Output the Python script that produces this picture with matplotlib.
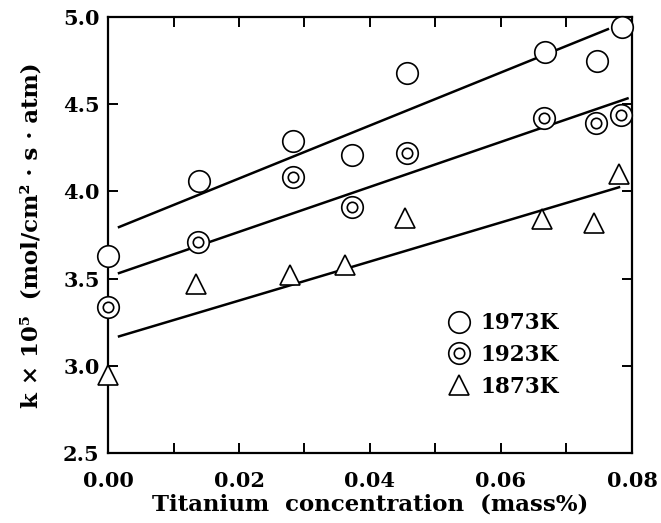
import numpy as np
import matplotlib
matplotlib.use("Agg")
import matplotlib.pyplot as plt
from matplotlib.ticker import MultipleLocator

plt.rcParams['font.family'] = 'DejaVu Serif'
plt.rcParams['font.weight'] = 'bold'

# ===== Data =====
ti_1973 = [0.0, 0.0139, 0.0282, 0.0373, 0.0457, 0.0667, 0.0747, 0.0785]
k_1973 = [3.63, 4.06, 4.29, 4.21, 4.68, 4.80, 4.75, 4.94]

ti_1923 = [0.0, 0.0138, 0.0282, 0.0373, 0.0457, 0.0666, 0.0745, 0.0783]
k_1923 = [3.34, 3.71, 4.08, 3.91, 4.22, 4.42, 4.39, 4.44]

ti_1873 = [0.0, 0.0134, 0.0278, 0.0362, 0.0453, 0.0663, 0.0742, 0.0780]
k_1873 = [2.95, 3.47, 3.52, 3.58, 3.85, 3.84, 3.82, 4.10]

# fitted lines: intercept, slope, x range
fit_intercept = [3.77, 3.51, 3.15]
fit_slope = [15.2, 12.9, 11.2]
fit_xmin = [0.0015, 0.0015, 0.0015]
fit_xmax = [0.0765, 0.0795, 0.0782]

labels = ["1973K", "1923K", "1873K"]


fig = plt.figure(figsize=(6.61, 5.23), dpi=100)
ax = fig.add_axes([0.1634, 0.1338, 0.7927, 0.8337])

# fitted lines
for b, m, x0, x1 in zip(fit_intercept, fit_slope, fit_xmin, fit_xmax):
    xx = np.array([x0, x1])
    ax.plot(xx, b + m * xx, color='black', lw=1.8, zorder=2,
            solid_capstyle='butt')

mk = dict(linestyle='none', markerfacecolor='white', markeredgecolor='black',
          markeredgewidth=1.2, clip_on=False, zorder=3)

h1, = ax.plot(ti_1973, k_1973, marker='o', markersize=15.5, **mk)
h2a, = ax.plot(ti_1923, k_1923, marker='o', markersize=15.5, **mk)
h2b, = ax.plot(ti_1923, k_1923, marker='o', markersize=7.5,
               **dict(mk, zorder=4))
h3, = ax.plot(ti_1873, k_1873, marker='^', markersize=14, **mk)

ax.legend([h1, (h2a, h2b), h3], labels,
          loc='center left', bbox_to_anchor=(0.63, 0.225),
          frameon=False, prop={'size': 15.5, 'weight': 'bold'},
          handlelength=0.95, handletextpad=0.5, labelspacing=0.45,
          borderpad=0)

ax.set_xlim(0, 0.08)
ax.set_ylim(2.5, 5.0)
ax.xaxis.set_major_locator(MultipleLocator(0.02))
ax.xaxis.set_minor_locator(MultipleLocator(0.01))
ax.yaxis.set_major_locator(MultipleLocator(0.5))
ax.xaxis.set_major_formatter(lambda v, p: '%.2f' % v)
ax.yaxis.set_major_formatter(lambda v, p: '%.1f' % v)

ax.tick_params(which='both', direction='in', top=True, right=True,
               width=1.4, labelsize=15)
ax.tick_params(which='major', length=7)
ax.tick_params(which='minor', length=7)
ax.tick_params(axis='x', which='major', pad=13)
ax.tick_params(axis='y', which='major', pad=6)
for s in ax.spines.values():
    s.set_linewidth(1.6)

ax.set_xlabel('Titanium  concentration  (mass%)', fontsize=16.5,
              fontweight='bold', labelpad=2)
ax.set_ylabel('k × 10⁵  (mol/cm² · s · atm)', fontsize=16.5,
              fontweight='bold', labelpad=15)

fig.savefig("out.png", dpi=100)
